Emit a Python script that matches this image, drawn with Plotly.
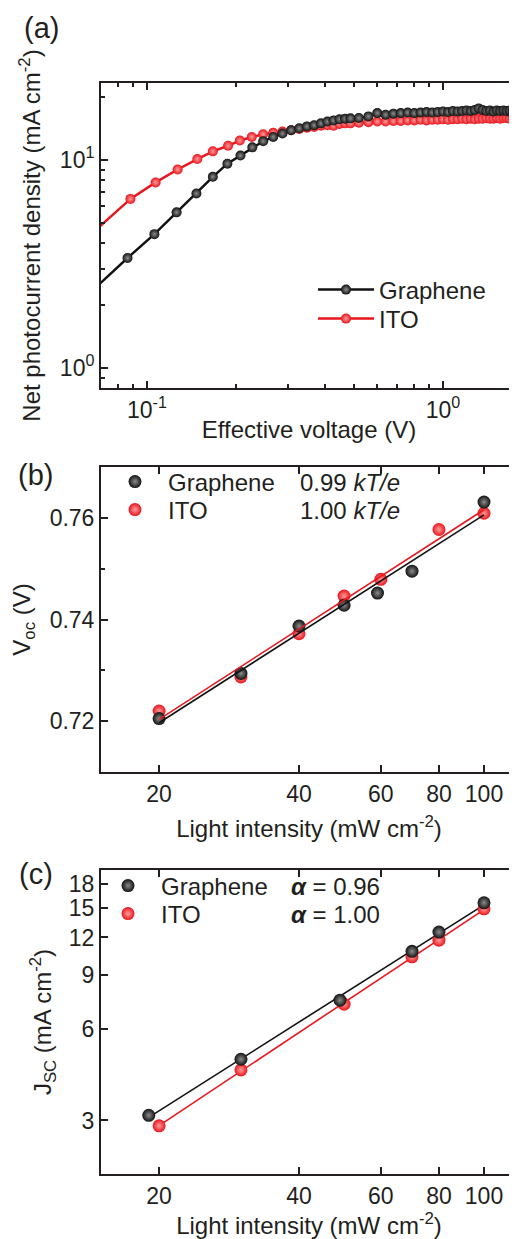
import numpy as np
import plotly.graph_objects as go

# ---------------- data ----------------
# (a) net photocurrent density vs effective voltage
v_gr = [0.066, 0.086, 0.106, 0.126, 0.147, 0.167, 0.187, 0.207, 0.227, 0.247, 0.267, 0.287,
        0.307, 0.327, 0.347, 0.367, 0.387, 0.407, 0.427, 0.447, 0.467, 0.487,
        0.52, 0.56, 0.60, 0.64, 0.68, 0.72, 0.76, 0.80, 0.84, 0.88, 0.92, 0.96, 1.00,
        1.04, 1.08, 1.12, 1.16, 1.20, 1.24, 1.28, 1.32, 1.36, 1.40, 1.44, 1.48, 1.52,
        1.56, 1.60, 1.64, 1.68, 1.72, 1.76, 1.80]
j_gr = [2.38, 3.38, 4.4, 5.6, 6.9, 8.3, 9.6, 10.5, 11.5, 12.3, 12.9, 13.4,
        13.9, 14.2, 14.5, 14.7, 15.0, 15.3, 15.5, 15.7, 15.8, 15.85,
        15.9, 16.2, 16.8, 16.5, 16.7, 16.8, 16.9, 16.8, 16.9, 17.0, 16.9, 17.0, 17.1,
        17.0, 17.2, 17.1, 17.2, 17.3, 17.2, 17.4, 17.7, 17.4, 17.2, 17.3, 17.1, 17.3,
        17.2, 17.3, 17.2, 17.3, 17.2, 17.3, 17.3]
v_ito = [0.066, 0.088, 0.107, 0.127, 0.148, 0.167, 0.188, 0.206, 0.226, 0.247, 0.267, 0.287,
         0.307, 0.327, 0.347, 0.367, 0.387, 0.407, 0.427, 0.447, 0.467, 0.487,
         0.52, 0.56, 0.60, 0.64, 0.68, 0.72, 0.76, 0.80, 0.84, 0.88, 0.92, 0.96, 1.00,
         1.04, 1.08, 1.12, 1.16, 1.20, 1.24, 1.28, 1.32, 1.36, 1.40, 1.44, 1.48, 1.52,
         1.56, 1.60, 1.64, 1.68, 1.72, 1.76, 1.80]
j_ito = [4.5, 6.5, 7.8, 9.0, 10.1, 11.0, 11.7, 12.4, 12.9, 13.3, 13.5, 13.7,
         13.9, 14.1, 14.3, 14.4, 14.6, 14.7, 14.6, 14.9, 15.0, 15.0,
         15.1, 15.2, 15.3, 15.3, 15.4, 15.4, 15.5, 15.5, 15.6, 15.5, 15.6, 15.6, 15.7,
         15.6, 15.7, 15.7, 15.8, 15.7, 15.8, 15.7, 15.8, 15.8, 15.9, 15.8, 15.8, 15.9,
         15.8, 15.9, 15.9, 15.8, 15.9, 15.9, 15.9]

# (b) Voc vs light intensity
p_voc_gr = [20, 30, 40, 50, 59, 70, 100]
voc_gr = [0.7205, 0.7294, 0.7387, 0.7428, 0.7452, 0.7495, 0.7631]
p_voc_ito = [20, 30, 40, 50, 60, 80, 100]
voc_ito = [0.7220, 0.7287, 0.7372, 0.7446, 0.7479, 0.7577, 0.7609]

# (c) Jsc vs light intensity
p_jsc_gr = [19, 30, 49, 70, 80, 100]
jsc_gr = [3.12, 4.77, 7.46, 10.8, 12.5, 15.6]
p_jsc_ito = [20, 30, 50, 70, 80, 100]
jsc_ito = [2.88, 4.40, 7.24, 10.36, 11.75, 14.9]

slope_labels_b = ["0.99 <i>kT/e</i>", "1.00 <i>kT/e</i>"]
slope_labels_c = ["<b><i>\u03b1</i></b> = 0.96", "<b><i>\u03b1</i></b> = 1.00"]

# ---------------- geometry (page pixels; the page has an 8px body margin) ----------------
OFF = 8
W, H = 517 - OFF, 1239 - OFF
L, R, T, B = 101, 517, 83, 1174          # plot-area box in page pixels
PW, PH = R - L, B - T
FONT = "Liberation Sans, Arial, sans-serif"
INK = "#231f20"
BLACK = "#121212"
RED = "#e8151d"

def px(x):
    return (x - L) / PW

def py(y):
    return (B - y) / PH

def ball(color, center, size):
    return dict(color=color, size=size, line=dict(width=0),
                gradient=dict(type="radial", color=center))

BLK_BALL = lambda s: ball(BLACK, "#8c8c8c", s)
RED_BALL = lambda s: ball(RED, "#ff9c9c", s)

fig = go.Figure()

# ---- panel (a) ----
fig.add_trace(go.Scatter(x=v_ito, y=j_ito, name="ITO", mode="lines+markers",
                         line=dict(color=RED, width=2.5), marker=RED_BALL(10),
                         xaxis="x", yaxis="y", legend="legend2"))
fig.add_trace(go.Scatter(x=v_gr, y=j_gr, name="Graphene", mode="lines+markers",
                         line=dict(color=BLACK, width=2.5), marker=BLK_BALL(10),
                         xaxis="x", yaxis="y", legend="legend"))

# ---- panel (b) ----
def fit_semilog(p, v):
    b, a = np.polyfit(np.log(p), v, 1)
    xs = np.array([min(p), max(p)], dtype=float)
    return xs, a + b * np.log(xs)

fig.add_trace(go.Scatter(x=p_voc_ito, y=voc_ito, name="ITO", mode="markers",
                         marker=RED_BALL(13), xaxis="x2", yaxis="y2", legend="legend4"))
fig.add_trace(go.Scatter(x=p_voc_gr, y=voc_gr, name="Graphene", mode="markers",
                         marker=BLK_BALL(13), xaxis="x2", yaxis="y2", legend="legend3"))
for p, v, c in [(p_voc_ito, voc_ito, RED), (p_voc_gr, voc_gr, BLACK)]:
    xs, ys = fit_semilog(p, v)
    fig.add_trace(go.Scatter(x=xs, y=ys, mode="lines", line=dict(color=c, width=1.6),
                             showlegend=False, xaxis="x2", yaxis="y2", hoverinfo="skip"))

# ---- panel (c) ----
def fit_loglog(p, j):
    b, a = np.polyfit(np.log10(p), np.log10(j), 1)
    xs = np.array([min(p), max(p)], dtype=float)
    return xs, 10 ** (a + b * np.log10(xs))

for p, j, c in [(p_jsc_ito, jsc_ito, RED), (p_jsc_gr, jsc_gr, BLACK)]:
    xs, ys = fit_loglog(p, j)
    fig.add_trace(go.Scatter(x=xs, y=ys, mode="lines", line=dict(color=c, width=1.6),
                             showlegend=False, xaxis="x3", yaxis="y3", hoverinfo="skip"))
fig.add_trace(go.Scatter(x=p_jsc_ito, y=jsc_ito, name="ITO", mode="markers",
                         marker=RED_BALL(13), xaxis="x3", yaxis="y3", legend="legend6"))
fig.add_trace(go.Scatter(x=p_jsc_gr, y=jsc_gr, name="Graphene", mode="markers",
                         marker=BLK_BALL(13), xaxis="x3", yaxis="y3", legend="legend5"))

# ---------------- axes ----------------
def ax(**kw):
    d = dict(showline=True, linecolor=INK, linewidth=2, mirror="ticks", ticks="inside",
             ticklen=7, tickwidth=1.8, tickcolor=INK, showgrid=False, zeroline=False,
             automargin=False, tickfont=dict(size=23, color=INK, family=FONT))
    d.update(kw)
    return d

def minor(vals):
    return dict(ticks="inside", ticklen=4, tickwidth=1.5, tickcolor=INK,
                tickvals=vals, showgrid=False)

def ydom(top, bot):
    return [py(bot), py(top)]

title_font = dict(size=24, color=INK, family=FONT)
leg_font = dict(size=24, color=INK, family=FONT)

def leg(xl, yc, iw):
    return dict(x=px(xl), y=py(yc), xanchor="left", yanchor="middle",
                bgcolor="rgba(0,0,0,0)", font=leg_font, itemwidth=iw)

fig.update_layout(
    width=W, height=H,
    margin=dict(l=L - OFF, r=(517 - R), t=T - OFF, b=(1239 - B)),
    paper_bgcolor="white", plot_bgcolor="white",
    font=dict(family=FONT, color=INK),
    xaxis=ax(type="log", domain=[0, 1], anchor="y", range=[-1.155, 0.25],
             tickvals=[0.1, 1], ticktext=["10<sup>-1</sup>", "10<sup>0</sup>"],
             minor=minor([0.08, 0.09, 0.2, 0.3, 0.4, 0.5, 0.6, 0.7, 0.8, 0.9]),
             title=dict(text="Effective voltage (V)", font=title_font, standoff=0)),
    yaxis=ax(type="log", domain=ydom(83, 388), anchor="x", range=[-0.096, 1.370],
             tickvals=[1, 10], ticktext=["10<sup>0</sup>", "10<sup>1</sup>"],
             minor=minor([0.9, 2, 3, 4, 5, 6, 7, 8, 9, 20]),
             title=dict(text="Net photocurrent density (mA cm<sup>-2</sup>)", font=title_font,
                        standoff=12)),
    xaxis2=ax(type="log", domain=[0, 1], anchor="y2", range=[1.176, 2.071],
              tickvals=[20, 40, 60, 80, 100], ticktext=["20", "40", "60", "80", "100"],
              title=dict(text="Light intensity (mW cm<sup>-2</sup>)", font=title_font, standoff=15)),
    yaxis2=ax(domain=ydom(467, 772), anchor="x2", range=[0.710, 0.770],
              tickvals=[0.72, 0.74, 0.76], ticktext=["0.72", "0.74", "0.76"],
              minor=minor([0.73, 0.75]),
              title=dict(text="V<sub>oc</sub> (V)", font=title_font, standoff=13)),
    xaxis3=ax(type="log", domain=[0, 1], anchor="y3", range=[1.176, 2.071],
              tickvals=[20, 40, 60, 80, 100], ticktext=["20", "40", "60", "80", "100"],
              title=dict(text="Light intensity (mW cm<sup>-2</sup>)", font=title_font, standoff=15)),
    yaxis3=ax(type="log", domain=ydom(870, 1174), anchor="x3", range=[np.log10(2.0), np.log10(20.0)],
              tickvals=[3, 6, 9, 12, 15, 18], ticktext=["3", "6", "9", "12", "15", "18"],
              title=dict(text="J<sub>SC</sub> (mA cm<sup>-2</sup>)", font=title_font, standoff=10)),
    legend=leg(313, 290, 56),
    legend2=leg(313, 319, 56),
    legend3=leg(102, 482, 56),
    legend4=leg(102, 510, 56),
    legend5=leg(95, 886, 56),
    legend6=leg(95, 914, 56),
    showlegend=True,
)

ann = []
for txt, xl, yc in [("(a)", 22, 28), ("(b)", 16, 475), ("(c)", 17, 874)]:
    ann.append(dict(text=txt, x=px(xl), y=py(yc), xref="paper", yref="paper",
                    xanchor="left", yanchor="middle", showarrow=False,
                    font=dict(size=29, color=INK, family=FONT)))
for txt, yc in zip(slope_labels_b, [482, 510]):
    ann.append(dict(text=txt, x=px(298), y=py(yc), xref="paper", yref="paper",
                    xanchor="left", yanchor="middle", showarrow=False, font=leg_font))
for txt, yc in zip(slope_labels_c, [886, 914]):
    ann.append(dict(text=txt, x=px(289), y=py(yc), xref="paper", yref="paper",
                    xanchor="left", yanchor="middle", showarrow=False, font=leg_font))
fig.update_layout(annotations=ann)

fig.write_html("out.html")
